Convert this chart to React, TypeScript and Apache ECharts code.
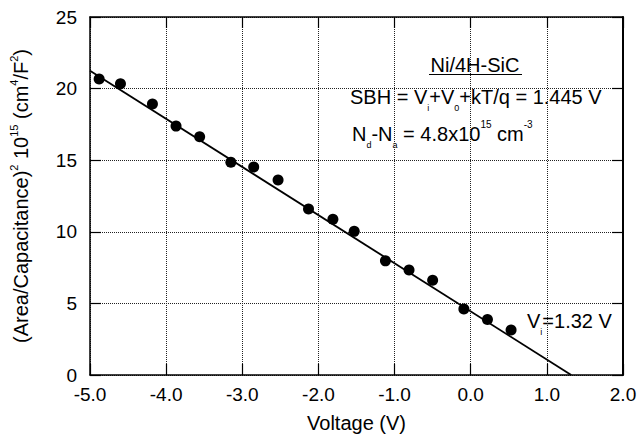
import React, { useEffect, useRef } from "react";
import * as echarts from "echarts";

const voltages = [-4.88, -4.6, -4.18, -3.87, -3.56, -3.15, -2.85, -2.53, -2.13, -1.81, -1.53, -1.12, -0.81, -0.5, -0.09, 0.22, 0.53];
const values = [20.67, 20.34, 18.92, 17.38, 16.63, 14.86, 14.53, 13.62, 11.59, 10.87, 10.03, 7.97, 7.34, 6.62, 4.61, 3.87, 3.14];
const fitX = [-5, 1.32];
const fitY = [21.25, 0];

const FONT = "Liberation Sans, Arial, Helvetica, sans-serif";

export default function App() {
  const ref = useRef<HTMLDivElement>(null);
  useEffect(() => {
    if (!ref.current) return;
    const chart = echarts.init(ref.current, null, { renderer: "svg" });
    const main = { fontSize: 20, lineHeight: 30, fontFamily: FONT, color: "#000" };
    const sub = { fontSize: 9, verticalAlign: "bottom", lineHeight: 6, fontFamily: FONT, color: "#000" };
    const sup = { fontSize: 10, verticalAlign: "top", lineHeight: 25, fontFamily: FONT, color: "#000" };
    const rich = { m: main, s: sub, p: sup };
    const axisLineStyle = { color: "#000", width: 1.5 };
    const tick = { show: true, inside: true, length: 11, lineStyle: { color: "#000", width: 1.2 } };
    const split = { show: true, lineStyle: { type: "dotted", color: "#222", width: 1 } };
    chart.setOption({
      animation: false,
      backgroundColor: "#fff",
      grid: { left: 90, right: 18, top: 17, bottom: 64 },
      xAxis: [
        {
          type: "value", min: -5, max: 2, interval: 1, position: "bottom",
          name: "Voltage (V)", nameLocation: "middle", nameGap: 38,
          nameTextStyle: { fontSize: 20, fontFamily: FONT, color: "#000" },
          axisLine: { show: true, onZero: false, lineStyle: axisLineStyle },
          axisTick: tick,
          axisLabel: { fontSize: 19, fontFamily: FONT, color: "#000", margin: 10, formatter: (v: number) => v.toFixed(1) },
          splitLine: split,
        },
        {
          type: "value", min: -5, max: 2, interval: 1, position: "top",
          axisLine: { show: true, onZero: false, lineStyle: axisLineStyle },
          axisTick: tick, axisLabel: { show: false }, splitLine: { show: false },
        },
      ],
      yAxis: [
        {
          type: "value", min: 0, max: 25, interval: 5, position: "left",
          name: "{m|(Area/Capacitance)}{p|2}{m| 10}{p|15}{m| (cm}{p|4}{m|/F}{p|2}{m|)}",
          nameLocation: "middle", nameGap: 56,
          nameTextStyle: {
            rich: {
              m: { fontSize: 20, lineHeight: 26, fontFamily: FONT, color: "#000" },
              p: { fontSize: 11, verticalAlign: "top", lineHeight: 20, fontFamily: FONT, color: "#000" },
            },
          },
          axisLine: { show: true, onZero: false, lineStyle: axisLineStyle },
          axisTick: tick,
          axisLabel: { fontSize: 19, fontFamily: FONT, color: "#000", margin: 13 },
          splitLine: split,
        },
        {
          type: "value", min: 0, max: 25, interval: 5, position: "right",
          axisLine: { show: true, onZero: false, lineStyle: { color: "#000", width: 2 } },
          axisTick: tick, axisLabel: { show: false }, splitLine: { show: false },
        },
      ],
      series: [
        {
          type: "line", xAxisIndex: 0, yAxisIndex: 0,
          data: fitX.map((x, i) => [x, fitY[i]]),
          symbol: "none", lineStyle: { color: "#000", width: 1.8 }, z: 2,
        },
        {
          type: "scatter", xAxisIndex: 0, yAxisIndex: 0,
          data: voltages.map((x, i) => [x, values[i]]),
          symbol: "circle", symbolSize: 11, itemStyle: { color: "#000", opacity: 1 }, z: 3,
        },
      ],
      graphic: [
        {
          type: "text", x: 475, y: 65,
          style: { text: "Ni/4H-SiC", fontSize: 20, fontFamily: FONT, fill: "#000", align: "center", verticalAlign: "middle" },
        },
        { type: "line", shape: { x1: 429, y1: 74.5, x2: 522, y2: 74.5 }, style: { stroke: "#000", lineWidth: 1.2 } },
        {
          type: "text", x: 350, y: 97,
          style: {
            text: "{m|SBH = V}{s|i}{m|+V}{s|0}{m|+kT/q = 1.445 V}",
            rich, align: "left", verticalAlign: "middle",
          },
        },
        {
          type: "text", x: 352, y: 134,
          style: {
            text: "{m|N}{s|d}{m|-N}{s|a}{m| = 4.8x10}{p|15}{m| cm}{p|-3}",
            rich, align: "left", verticalAlign: "middle",
          },
        },
        {
          type: "text", x: 527, y: 321,
          style: {
            text: "{m|V}{s|i}{m|=1.32 V}",
            rich, align: "left", verticalAlign: "middle",
          },
        },
      ],
    });
    return () => chart.dispose();
  }, []);
  return <div ref={ref} style={{ position: "absolute", left: 0, top: 0, width: 641, height: 439 }} />;
}
